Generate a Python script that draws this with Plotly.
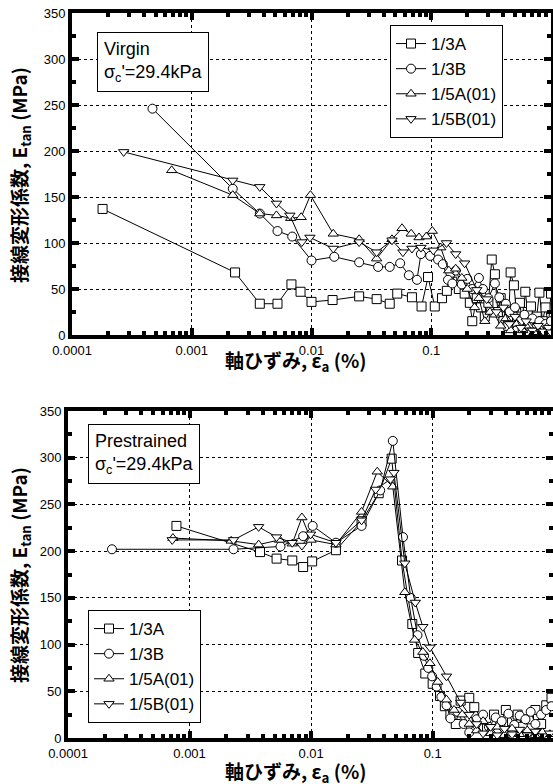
import plotly.graph_objects as go

# ---------------- data: top panel (Virgin) ----------------
v13A_x = [0.00018, 0.0023, 0.0037, 0.0052, 0.0068, 0.0081, 0.010, 0.015, 0.025, 0.035, 0.045, 0.052, 0.069, 0.083, 0.094, 0.107, 0.123, 0.135, 0.15, 0.17, 0.19, 0.21, 0.22, 0.24, 0.26, 0.28, 0.30, 0.32, 0.34, 0.36, 0.38, 0.40, 0.42, 0.44, 0.46, 0.49, 0.52, 0.55, 0.58, 0.61, 0.64, 0.68, 0.72, 0.76, 0.80, 0.85, 0.90, 0.95, 1.0]
v13A_y = [137, 68, 34, 34, 55, 47, 36, 38, 42, 39, 34, 45, 41, 31, 63, 31, 40, 48, 58, 50, 45, 35, 15, 40, 30, 20, 35, 82, 66, 25, 40, 15, 30, 10, 68, 54, 20, 35, 8, 47, 25, 31, 10, 20, 46, 15, 30, 10, 45]

v13B_x = [0.00047, 0.0022, 0.0037, 0.0052, 0.0069, 0.0100, 0.0155, 0.025, 0.036, 0.045, 0.055, 0.065, 0.076, 0.082, 0.098, 0.114, 0.125, 0.138, 0.15, 0.16, 0.18, 0.20, 0.22, 0.25, 0.27, 0.30, 0.34, 0.37, 0.42, 0.45, 0.50, 0.55, 0.60, 0.65, 0.70, 0.75, 0.80, 0.85, 0.90, 0.95, 1.0]
v13B_y = [246, 159, 132, 113, 107, 81, 85, 79, 74, 74, 78, 65, 60, 88, 86, 82, 77, 60, 56, 70, 55, 61, 50, 62, 50, 40, 56, 41, 34, 25, 30, 15, 22, 10, 18, 8, 15, 5, 12, 8, 15]

v15A_x = [0.00068, 0.0022, 0.0037, 0.0051, 0.0067, 0.0082, 0.0098, 0.0152, 0.025, 0.035, 0.047, 0.057, 0.068, 0.079, 0.091, 0.102, 0.12, 0.14, 0.16, 0.18, 0.20, 0.23, 0.25, 0.28, 0.31, 0.34, 0.38, 0.42, 0.46, 0.52, 0.58, 0.65, 0.72, 0.80, 0.90, 1.0]
v15A_y = [179, 152, 132, 130, 127, 128, 152, 110, 104, 83, 104, 116, 110, 106, 107, 113, 95, 70, 72, 62, 50, 30, 40, 15, 25, 22, 10, 18, 5, 12, 5, 10, 3, 8, 4, 6]

v15B_x = [0.00027, 0.0022, 0.0037, 0.0051, 0.0066, 0.0083, 0.0097, 0.0152, 0.025, 0.035, 0.047, 0.058, 0.069, 0.082, 0.104, 0.134, 0.16, 0.19, 0.24, 0.29, 0.35, 0.40, 0.45, 0.50, 0.56, 0.62, 0.70, 0.78, 0.86, 0.95, 1.0]
v15B_y = [199, 168, 161, 143, 130, 101, 106, 94, 101, 90, 103, 90, 94, 95, 92, 100, 88, 78, 49, 39, 25, 30, 12, 20, 8, 15, 5, 10, 4, 8, 3]

# ---------------- data: bottom panel (Prestrained) ----------------
p13A_x = [0.00078, 0.0038, 0.0052, 0.0070, 0.0086, 0.0102, 0.016, 0.026, 0.036, 0.046, 0.056, 0.068, 0.076, 0.087, 0.10, 0.115, 0.126, 0.14, 0.155, 0.17, 0.20, 0.22, 0.25, 0.28, 0.32, 0.36, 0.40, 0.45, 0.50, 0.55, 0.62, 0.70, 0.78, 0.86, 0.95]
p13A_y = [227, 199, 192, 190, 183, 189, 201, 232, 262, 299, 190, 122, 91, 69, 58, 45, 34, 25, 15, 40, 43, 33, 20, 10, 25, 15, 30, 18, 25, 12, 20, 30, 15, 35, 43]

p13B_x = [0.00023, 0.0023, 0.0056, 0.0086, 0.0103, 0.016, 0.026, 0.037, 0.047, 0.057, 0.066, 0.075, 0.085, 0.092, 0.099, 0.108, 0.118, 0.13, 0.14, 0.16, 0.18, 0.20, 0.23, 0.26, 0.29, 0.33, 0.37, 0.42, 0.47, 0.52, 0.58, 0.64, 0.70, 0.78, 0.86, 0.95]
p13B_y = [202, 202, 205, 216, 227, 209, 227, 265, 318, 215, 150, 110, 88, 75, 66, 55, 44, 35, 21, 28, 15, 6, 20, 25, 12, 22, 18, 26, 14, 24, 20, 28, 15, 25, 30, 34]

p15A_x = [0.00073, 0.0022, 0.0037, 0.0055, 0.0070, 0.0084, 0.0100, 0.016, 0.026, 0.035, 0.047, 0.059, 0.071, 0.083, 0.095, 0.11, 0.13, 0.15, 0.175, 0.20, 0.23, 0.26, 0.30, 0.34, 0.39, 0.45, 0.52, 0.60, 0.70, 0.80, 0.92]
p15A_y = [214, 211, 207, 212, 208, 236, 212, 207, 242, 285, 269, 156, 105, 92, 80, 60, 41, 30, 25, 15, 8, 18, 5, 12, 3, 10, 4, 8, 3, 6, 4]

p15B_x = [0.00072, 0.0023, 0.0037, 0.0052, 0.0070, 0.0084, 0.0099, 0.016, 0.026, 0.034, 0.045, 0.048, 0.059, 0.072, 0.083, 0.095, 0.13, 0.17, 0.20, 0.23, 0.26, 0.30, 0.34, 0.39, 0.45, 0.52, 0.60, 0.70, 0.80, 0.92]
p15B_y = [212, 212, 226, 215, 209, 206, 218, 209, 233, 266, 277, 284, 187, 145, 119, 97, 66, 38, 25, 15, 5, 12, 3, 10, 4, 9, 3, 7, 2, 5]

series_names = ["1/3A", "1/3B", "1/5A(01)", "1/5B(01)"]
symbols = ["square", "circle", "triangle-up", "triangle-down"]
x_tickvals = [0.0001, 0.001, 0.01, 0.1, 1]
y_tickvals = [0, 50, 100, 150, 200, 250, 300, 350]

W, H = 553, 784
fig = go.Figure()

top = [(v13A_x, v13A_y), (v13B_x, v13B_y), (v15A_x, v15A_y), (v15B_x, v15B_y)]
bot = [(p13A_x, p13A_y), (p13B_x, p13B_y), (p15A_x, p15A_y), (p15B_x, p15B_y)]

for i, (xs, ys) in enumerate(top):
    fig.add_trace(go.Scatter(
        x=xs, y=ys, mode="lines+markers", name=series_names[i],
        line=dict(color="black", width=1),
        marker=dict(symbol=symbols[i], size=9, color="white", line=dict(color="black", width=1)),
        xaxis="x", yaxis="y", legend="legend"))
for i, (xs, ys) in enumerate(bot):
    fig.add_trace(go.Scatter(
        x=xs, y=ys, mode="lines+markers", name=series_names[i],
        line=dict(color="black", width=1),
        marker=dict(symbol=symbols[i], size=9, color="white", line=dict(color="black", width=1)),
        xaxis="x2", yaxis="y2", legend="legend2"))

minor_x = [m * 10 ** e for e in range(-4, 0) for m in range(2, 10)]
tick_font = dict(family="Liberation Sans, Arial", size=13, color="black")

def xaxis(domain, rng, anchor):
    return dict(
        type="log", domain=domain, range=rng, anchor=anchor, automargin=False,
        tickvals=x_tickvals, exponentformat="none",
        showline=True, linewidth=4, linecolor="black", mirror="ticks",
        ticks="inside", ticklen=7, tickwidth=4, tickcolor="black",
        showgrid=True, gridcolor="black", gridwidth=1, griddash="dot",
        minor=dict(tickvals=minor_x, ticks="inside", ticklen=4, tickwidth=4, tickcolor="black", showgrid=False),
        tickfont=tick_font, zeroline=False,
    )

def yaxis(domain, anchor):
    return dict(
        domain=domain, range=[0, 350], anchor=anchor, automargin=False,
        tickvals=y_tickvals,
        showline=True, linewidth=4, linecolor="black", mirror="ticks",
        ticks="inside", ticklen=7, tickwidth=4, tickcolor="black",
        showgrid=True, gridcolor="black", gridwidth=1, griddash="dot",
        minor=dict(dtick=25, tick0=0, ticks="inside", ticklen=4, tickwidth=4, tickcolor="black", showgrid=False),
        tickfont=tick_font, zeroline=False,
    )

fig.update_layout(
    width=W, height=H,
    margin=dict(l=0, r=0, t=0, b=0, autoexpand=False),
    paper_bgcolor="white", plot_bgcolor="white",
    showlegend=True,
    xaxis=xaxis([72 / W, 551 / W], [-4, 0], "y"),
    yaxis=yaxis([1 - 335 / H, 1 - 13 / H], "x"),
    xaxis2=xaxis([68 / W, 1.0], [-4, -0.01], "y2"),
    yaxis2=yaxis([1 - 738 / H, 1 - 411 / H], "x2"),
    legend=dict(x=390 / W, y=1 - 25 / H, xanchor="left", yanchor="top",
                bgcolor="white", bordercolor="black", borderwidth=1,
                font=dict(family="Liberation Sans, Arial", size=17, color="black"),
                tracegroupgap=0, itemwidth=30),
    legend2=dict(x=88 / W, y=1 - 610 / H, xanchor="left", yanchor="top",
                 bgcolor="white", bordercolor="black", borderwidth=1,
                 font=dict(family="Liberation Sans, Arial", size=17, color="black"),
                 tracegroupgap=0, itemwidth=30),
)

box_font = dict(family="Liberation Sans, Arial", size=18, color="black")
title_font = dict(family="Noto Sans CJK JP", size=19, color="black")

fig.add_annotation(xref="paper", yref="paper", x=97 / W, y=1 - 32 / H, xanchor="left", yanchor="top",
                   text="Virgin<br>σ<sub>c</sub>'=29.4kPa", showarrow=False, align="left",
                   bordercolor="black", borderwidth=1, bgcolor="white", borderpad=6, font=box_font)
fig.add_annotation(xref="paper", yref="paper", x=88 / W, y=1 - 424 / H, xanchor="left", yanchor="top",
                   text="Prestrained<br>σ<sub>c</sub>'=29.4kPa", showarrow=False, align="left",
                   bordercolor="black", borderwidth=1, bgcolor="white", borderpad=6, font=box_font)

ytitle = "<b>接線変形係数, E<sub>tan</sub> (MPa)</b>"
xtitle = "<b>軸ひずみ, ε<sub>a</sub> (%)</b>"
fig.add_annotation(xref="paper", yref="paper", x=20 / W, y=1 - 175 / H, text=ytitle, textangle=-90,
                   showarrow=False, font=title_font, xanchor="center", yanchor="middle")
fig.add_annotation(xref="paper", yref="paper", x=20 / W, y=1 - 575 / H, text=ytitle, textangle=-90,
                   showarrow=False, font=title_font, xanchor="center", yanchor="middle")
fig.add_annotation(xref="paper", yref="paper", x=295 / W, y=1 - 361 / H, text=xtitle,
                   showarrow=False, font=title_font, xanchor="center", yanchor="middle")
fig.add_annotation(xref="paper", yref="paper", x=295 / W, y=1 - 772 / H, text=xtitle,
                   showarrow=False, font=title_font, xanchor="center", yanchor="middle")

fig.write_html("out.html", config={"displayModeBar": False},
               post_script="document.body.style.margin='0';document.body.style.overflow='hidden';")
